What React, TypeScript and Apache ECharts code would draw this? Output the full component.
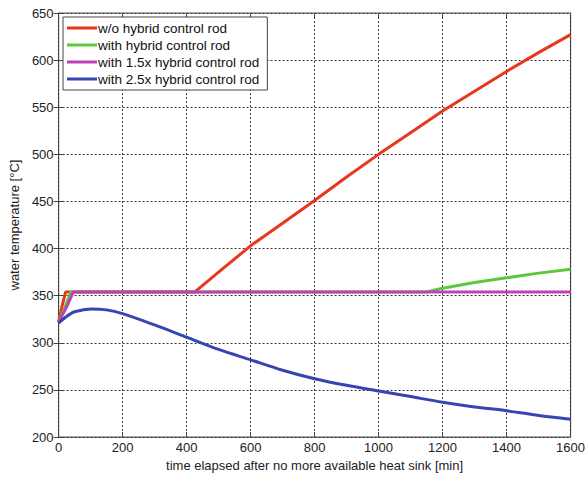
import React, { useEffect, useRef } from "react";
import * as echarts from "echarts";

const seriesNames = [
  "w/o hybrid control rod",
  "with hybrid control rod",
  "with 1.5x hybrid control rod",
  "with 2.5x hybrid control rod",
];
const seriesColors = ["#e8361f", "#5cc83c", "#c040b8", "#3546b0"];

const woTime = [0, 10, 22, 100, 200, 300, 426, 500, 600, 700, 800, 900, 1000, 1100, 1200, 1300, 1400, 1500, 1600];
const woTemp = [322, 338, 354, 354, 354, 354, 354, 375, 403, 427, 451, 476, 500, 523, 546, 567, 588, 608, 627];

const withTime = [0, 20, 38, 200, 600, 1000, 1149, 1200, 1300, 1400, 1500, 1600];
const withTemp = [322, 338, 354, 354, 354, 354, 354, 358, 364, 369, 374, 378];

const with15Time = [0, 25, 46, 200, 600, 1000, 1400, 1600];
const with15Temp = [322, 338, 354, 354, 354, 354, 354, 354];

const with25Time = [0, 25, 50, 103, 150, 200, 300, 400, 500, 600, 700, 800, 900, 1000, 1100, 1200, 1300, 1400, 1500, 1600];
const with25Temp = [321, 328, 333, 336, 335, 331, 319, 306, 293, 282, 271, 262, 255, 249, 243, 237, 232, 228, 223, 219];

const seriesSmooth = [false, false, false, 0.3];

const xTicks = { min: 0, max: 1600, interval: 200 };
const yTicks = { min: 200, max: 650, interval: 50 };

function zip(a: number[], b: number[]) {
  return a.map((v, i) => [v, b[i]]);
}

export default function App() {
  const ref = useRef<HTMLDivElement>(null);
  useEffect(() => {
    if (!ref.current) return;
    const chart = echarts.init(ref.current, undefined, { renderer: "svg" });
    const font = "Liberation Sans, Arial, sans-serif";
    const datasets = [
      zip(woTime, woTemp),
      zip(withTime, withTemp),
      zip(with15Time, with15Temp),
      zip(with25Time, with25Temp),
    ];
    const splitLine = { show: true, lineStyle: { color: "#333", type: [2, 2] as any, width: 1 } };
    const plain = (v: number) => String(v);
    const tick = { show: true, inside: true, length: 5, lineStyle: { color: "#444" } };
    chart.setOption({
      animation: false,
      backgroundColor: "#fff",
      textStyle: { fontFamily: font },
      grid: { left: 58, right: 16, top: 13, bottom: 36, show: true, borderColor: "#555", borderWidth: 1.2, backgroundColor: "#fff" },
      legend: {
        orient: "vertical",
        left: 63,
        top: 17,
        data: seriesNames,
        icon: "rect",
        itemWidth: 30,
        itemHeight: 3,
        itemGap: 3,
        padding: [4, 8, 4, 4],
        borderColor: "#444",
        borderWidth: 1,
        backgroundColor: "#fff",
        textStyle: { fontFamily: font, fontSize: 13.5, color: "#111", padding: [0, 0, 0, -4], lineHeight: 14 },
      },
      xAxis: [
        {
          type: "value",
          ...xTicks,
          name: "time elapsed after no more available heat sink [min]",
          nameLocation: "middle",
          nameGap: 21,
          nameTextStyle: { fontFamily: font, fontSize: 13, color: "#222" },
          axisLine: { show: false },
          axisTick: tick,
          axisLabel: { fontFamily: font, fontSize: 13, color: "#222", margin: 4, formatter: plain },
          splitLine,
        },
        {
          type: "value",
          ...xTicks,
          position: "top",
          axisLine: { show: false },
          axisTick: tick,
          axisLabel: { show: false },
          splitLine: { show: false },
        },
      ],
      yAxis: [
        {
          type: "value",
          ...yTicks,
          name: "water temperature [°C]",
          nameLocation: "middle",
          nameGap: 35,
          nameTextStyle: { fontFamily: font, fontSize: 13, color: "#222" },
          axisLine: { show: false },
          axisTick: tick,
          axisLabel: { fontFamily: font, fontSize: 13, color: "#222", margin: 5, formatter: plain },
          splitLine,
        },
        {
          type: "value",
          ...yTicks,
          position: "right",
          axisLine: { show: false },
          axisTick: tick,
          axisLabel: { show: false },
          splitLine: { show: false },
        },
      ],
      series: datasets.map((d, i) => ({
        name: seriesNames[i],
        type: "line",
        data: d,
        smooth: seriesSmooth[i],
        symbol: "none",
        lineStyle: { color: seriesColors[i], width: 3 },
        itemStyle: { color: seriesColors[i] },
        z: 2 + i,
      })),
    });
    return () => chart.dispose();
  }, []);
  return <div ref={ref} style={{ position: "fixed", left: 0, top: 0, width: 588, height: 477 }} />;
}
